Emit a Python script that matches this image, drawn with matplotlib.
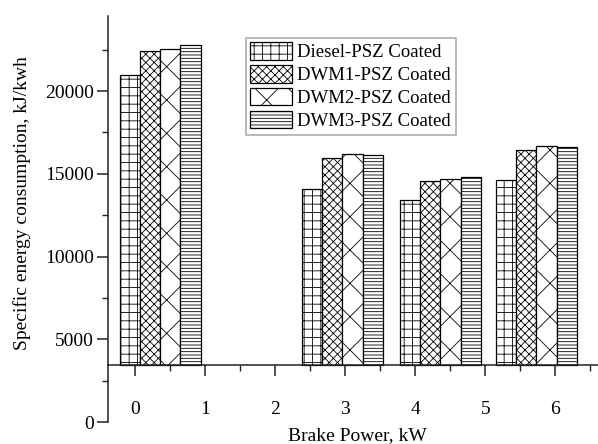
import matplotlib
matplotlib.use("Agg")
import matplotlib.pyplot as plt
import numpy as np
from matplotlib.ticker import MultipleLocator

plt.rcParams['font.family'] = ['Liberation Serif', 'DejaVu Serif']
plt.rcParams['hatch.linewidth'] = 0.6

series = ["Diesel-PSZ Coated", "DWM1-PSZ Coated", "DWM2-PSZ Coated", "DWM3-PSZ Coated"]
group_x = [0.36, 2.96, 4.36, 5.73]
diesel = [20950, 14070, 13400, 14630]
dwm1 = [22440, 15960, 14570, 16460]
dwm2 = [22560, 16180, 14680, 16690]
dwm3 = [22770, 16160, 14800, 16600]
values = [diesel, dwm1, dwm2, dwm3]
hatches = ['++', 'xxxx', 'x', '-----']
xticks = [0, 1, 2, 3, 4, 5, 6]
yticks = [0, 5000, 10000, 15000, 20000]
base = 3460

fig = plt.figure(figsize=(5.98, 4.44), dpi=100)
ax = fig.add_axes([0.180, 0.0489, 0.820, 0.9157])

w = 0.29
for i, (name, vals, h) in enumerate(zip(series, values, hatches)):
    xs = np.array(group_x) + (i - 1.5) * w
    ax.bar(xs, np.array(vals) - base, bottom=base, width=w, color='white',
           edgecolor='black', linewidth=0.9, hatch=h, label=name)

ax.set_xlim(-0.39, 6.61)
ax.set_ylim(0, 24550)
ax.spines['top'].set_visible(False)
ax.spines['right'].set_visible(False)
ax.spines['bottom'].set_position(('data', base))
for s in ['left', 'bottom']:
    ax.spines[s].set_linewidth(1.1)
    ax.spines[s].set_color('#222222')

ax.set_xticks(xticks)
ax.xaxis.set_minor_locator(MultipleLocator(0.5))
ax.set_yticks(yticks)
ax.yaxis.set_minor_locator(MultipleLocator(2500))
ax.tick_params(axis='both', which='major', length=8, width=1.1, labelsize=14, direction='out', color='#222222')
ax.tick_params(axis='both', which='minor', length=4, width=1.0, direction='out', color='#222222')
ax.tick_params(axis='x', which='major', pad=18)
ax.tick_params(axis='y', which='major', pad=2)

ax.set_xlabel("Brake Power, kW", fontsize=14)
ax.set_ylabel("Specific energy consumption, kJ/kwh", fontsize=14)
ax.xaxis.set_label_coords(0.51, -0.012)
ax.yaxis.set_label_coords(-0.157, 0.54)

leg = ax.legend(loc='upper left', bbox_to_anchor=(0.2815, 0.946), borderaxespad=0,
                fontsize=13.5, fancybox=False, frameon=True, edgecolor='#999999',
                handlelength=2.2, handleheight=1.05, labelspacing=0.2,
                handletextpad=0.3, borderpad=0.25)
leg.get_frame().set_linewidth(1.2)

fig.savefig("out.png", dpi=100)
